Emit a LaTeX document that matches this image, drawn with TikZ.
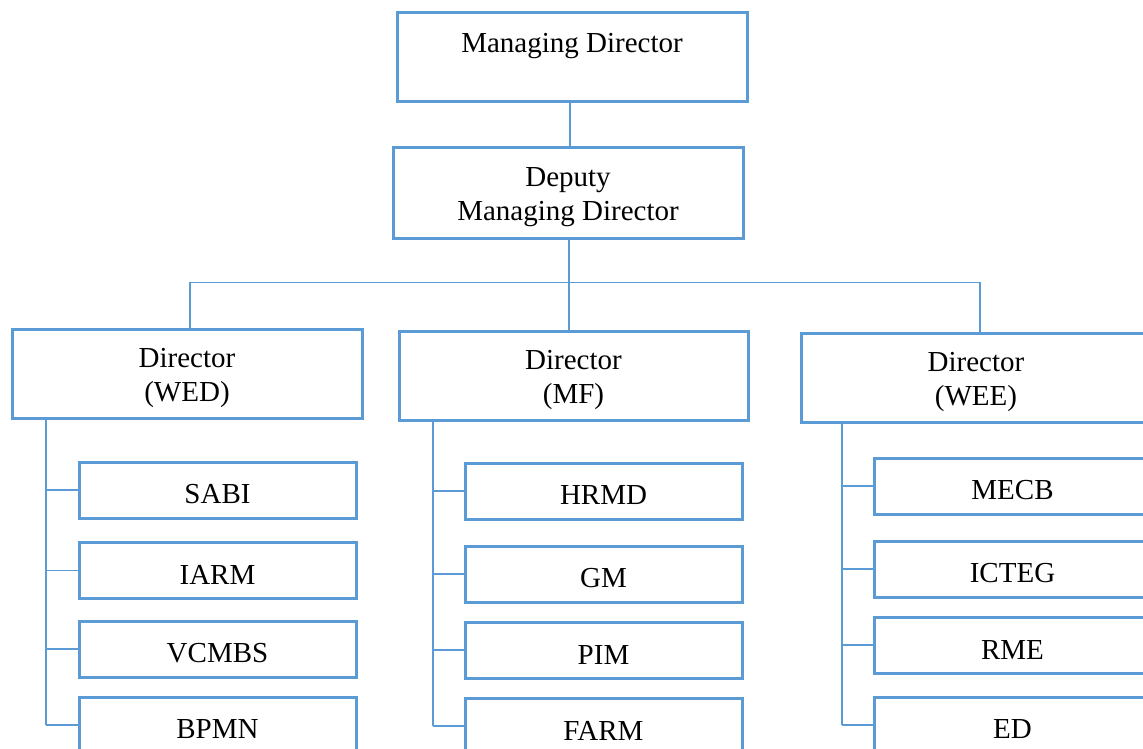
\documentclass[tikz,border=0pt]{standalone}
\usepackage{fontspec}
\setmainfont{Liberation Serif}
\definecolor{obl}{RGB}{91,155,213}
\newcommand{\lowstrut}{\rule{0pt}{28pt}}
\tikzset{
  box/.style={draw=obl, line width=3pt, fill=white, inner sep=0pt, align=center,
    font=\fontsize{29}{34}\selectfont},
  bigbox/.style={box, minimum width=350pt, minimum height=89pt},
  subbox/.style={box, minimum width=277pt, minimum height=56pt},
  conn/.style={draw=obl, line width=1.4pt},
  lbl/.style={inner sep=0pt, font=\fontsize{29}{34}\selectfont}
}
\begin{document}
\begin{tikzpicture}[x=1pt,y=-1pt]
\useasboundingbox (0,0) rectangle (1143,749);
\clip (0,0) rectangle (1143,749);
% top
\node[bigbox] (md) at (572,57.5) {};
\node[lbl, anchor=base] (mdt) at (572,53) {Managing Director};
\node[bigbox, minimum height=90pt] (dmd) at (568,193) {\lowstrut Deputy\\Managing Director};
% directors
\node[bigbox] (wed) at (187,373.5) {\lowstrut Director\\(WED)};
\node[bigbox, minimum width=349pt] (mf) at (573.5,375.5) {\lowstrut Director\\(MF)};
\node[bigbox] (wee) at (976,377.5) {\lowstrut Director\\(WEE)};
% children
\node[subbox] (sabi) at (217.5,490) {\lowstrut SABI};
\node[subbox] (iarm) at (217.5,570.5) {\lowstrut IARM};
\node[subbox] (vcmbs) at (217.5,649) {\lowstrut VCMBS};
\node[subbox] (bpmn) at (217.5,725) {\lowstrut BPMN};
\node[subbox] (hrmd) at (603.5,491) {\lowstrut HRMD};
\node[subbox] (gm) at (603.5,574) {\lowstrut GM};
\node[subbox] (pim) at (603.5,650) {\lowstrut PIM};
\node[subbox] (farm) at (603.5,726) {\lowstrut FARM};
\node[subbox] (mecb) at (1012.5,486) {\lowstrut MECB};
\node[subbox] (icteg) at (1012.5,569) {\lowstrut ICTEG};
\node[subbox] (rme) at (1012.5,645) {\lowstrut RME};
\node[subbox] (ed) at (1012.5,725) {\lowstrut ED};
% connectors
\coordinate (bus) at (0,282.5);
\coordinate (wedc) at (190,329);
\coordinate (weec) at (980,333);
\coordinate (tw) at (46,418);
\coordinate (tm) at (433,420);
\coordinate (te) at (842,422);
\draw[conn] (md.south -| 570,0) -- (dmd.north -| 570,0);
\draw[conn] (dmd.south -| 569,0) -- (mf.north -| 569,0);
\draw[conn] (wedc) -- (wedc |- bus) -- (weec |- bus) -- (weec);
\draw[conn] (tw) -- (tw |- bpmn.west);
\foreach \c in {sabi,iarm,vcmbs,bpmn} \draw[conn] (tw |- \c.west) -- (\c.west);
\draw[conn] (tm) -- (tm |- farm.west);
\foreach \c in {hrmd,gm,pim,farm} \draw[conn] (tm |- \c.west) -- (\c.west);
\draw[conn] (te) -- (te |- ed.west);
\foreach \c in {mecb,icteg,rme,ed} \draw[conn] (te |- \c.west) -- (\c.west);
\end{tikzpicture}
\end{document}
